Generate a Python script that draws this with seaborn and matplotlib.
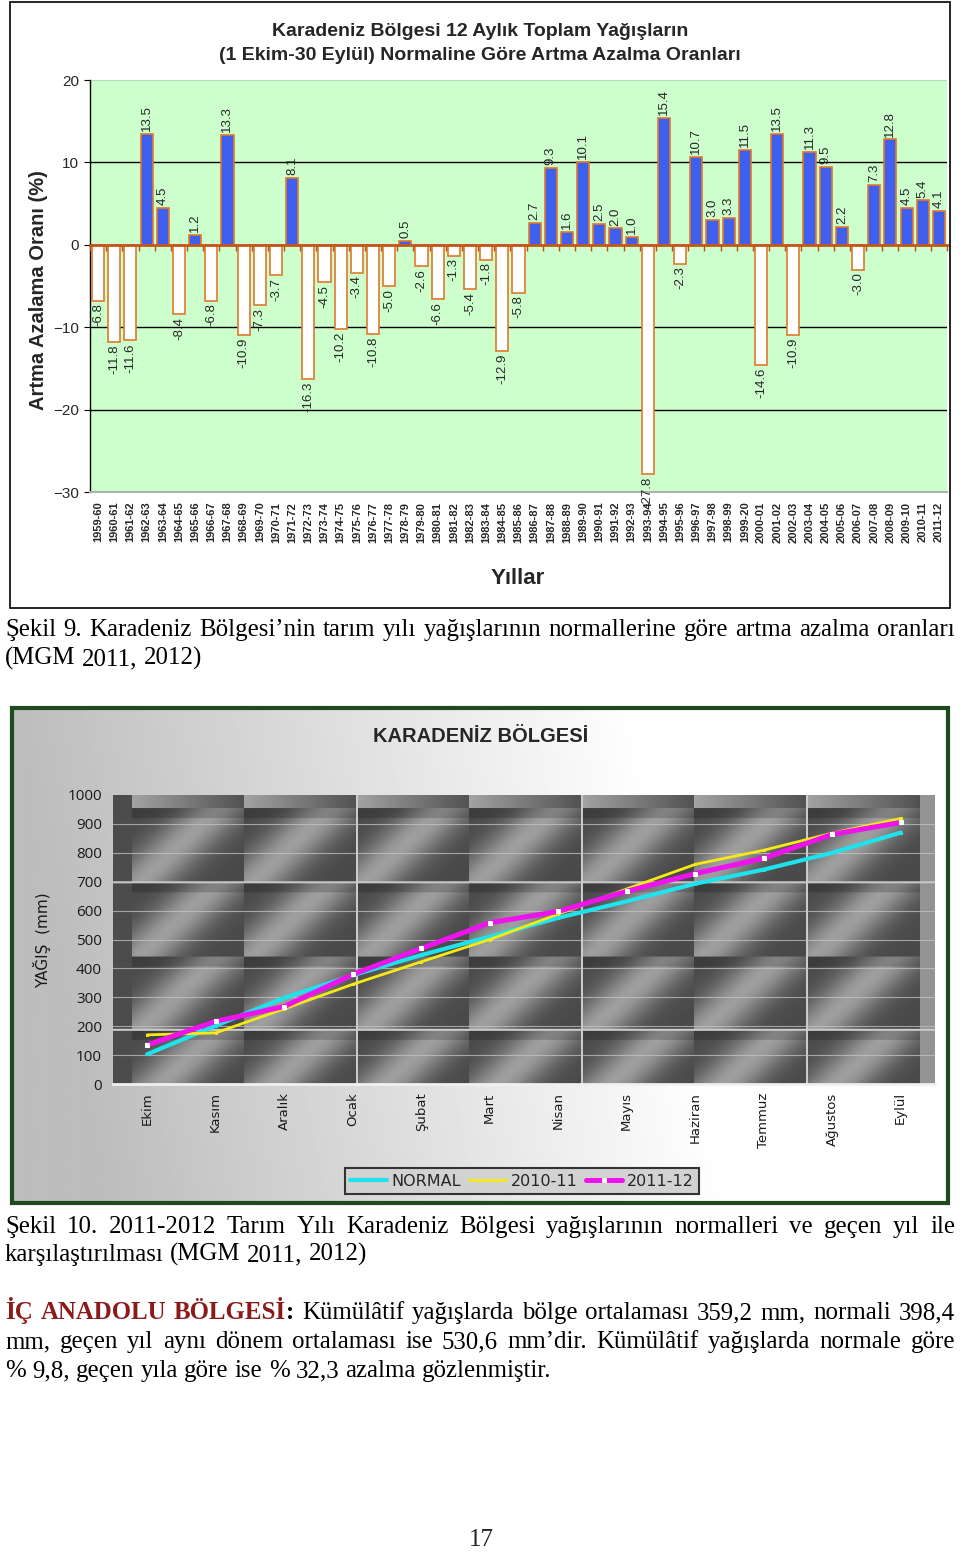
import numpy as np
import pandas as pd
import matplotlib
matplotlib.use("Agg")
import matplotlib.pyplot as plt
import seaborn as sns
from matplotlib.patches import Rectangle
from matplotlib.font_manager import FontProperties

W, H = 960, 1552

# ---------------- data: chart 1 ----------------
seasons = ["1959-60", "1960-61", "1961-62", "1962-63", "1963-64", "1964-65", "1965-66",
           "1966-67", "1967-68", "1968-69", "1969-70", "1970-71", "1971-72", "1972-73",
           "1973-74", "1974-75", "1975-76", "1976-77", "1977-78", "1978-79", "1979-80",
           "1980-81", "1981-82", "1982-83", "1983-84", "1984-85", "1985-86", "1986-87",
           "1987-88", "1988-89", "1989-90", "1990-91", "1991-92", "1992-93", "1993-94",
           "1994-95", "1995-96", "1996-97", "1997-98", "1998-99", "1999-20", "2000-01",
           "2001-02", "2002-03", "2003-04", "2004-05", "2005-06", "2006-07", "2007-08",
           "2008-09", "2009-10", "2010-11", "2011-12"]
change_pct = [-6.8, -11.8, -11.6, 13.5, 4.5, -8.4, 1.2, -6.8, 13.3, -10.9, -7.3, -3.7, 8.1,
              -16.3, -4.5, -10.2, -3.4, -10.8, -5.0, 0.5, -2.6, -6.6, -1.3, -5.4, -1.8,
              -12.9, -5.8, 2.7, 9.3, 1.6, 10.1, 2.5, 2.0, 1.0, -27.8, 15.4, -2.3, 10.7,
              3.0, 3.3, 11.5, -14.6, 13.5, -10.9, 11.3, 9.5, 2.2, -3.0, 7.3, 12.8, 4.5,
              5.4, 4.1]
y_ticks1 = [-30, -20, -10, 0, 10, 20]

# ---------------- data: chart 2 ----------------
months = ["Ekim", "Kasım", "Aralık", "Ocak", "Şubat", "Mart", "Nisan", "Mayıs",
          "Haziran", "Temmuz", "Ağustos", "Eylül"]
normal_mm = [103, 202, 298, 376, 446, 510, 575, 632, 693, 742, 800, 870]
season_2010_11 = [170, 177, 260, 345, 423, 500, 588, 675, 760, 809, 868, 919]
season_2011_12 = [135, 217, 268, 379, 469, 558, 597, 667, 728, 781, 864, 905]
series_names = ["NORMAL", "2010-11", "2011-12"]
y_ticks2 = [0, 100, 200, 300, 400, 500, 600, 700, 800, 900, 1000]

BLUE = "#3F5FEF"
ORANGE = "#E0782A"

sns.set_style("white")
plt.rcParams['font.family'] = ['Liberation Sans', 'DejaVu Sans']

fig = plt.figure(figsize=(W / 100, H / 100), dpi=100)
fig.patch.set_facecolor("white")


def fx(px):
    return px / W


def fy(py):
    return 1 - py / H


def box(l, t, r, b):
    return [fx(l), fy(b), (r - l) / W, (b - t) / H]


# ================= CHART 1 =================
fig.add_artist(Rectangle((fx(10), fy(608)), 940 / W, 606 / H, transform=fig.transFigure,
                         fill=False, edgecolor="black", lw=1.2))
fig.text(fx(480), fy(32), "Karadeniz Bölgesi 12 Aylık Toplam Yağışların",
         ha="center", va="center", fontsize=14, weight="bold")
fig.text(fx(480), fy(56), "(1 Ekim-30 Eylül) Normaline Göre Artma Azalma Oranları",
         ha="center", va="center", fontsize=14, weight="bold")

ax1 = fig.add_axes(box(90, 80, 947, 492))
df1 = pd.DataFrame({"Sezon": seasons, "Oran": change_pct})
sns.barplot(data=df1, x="Sezon", y="Oran", ax=ax1, color=BLUE, saturation=1,
            width=0.75, edgecolor=ORANGE, linewidth=1.2, errorbar=None, zorder=3)
cont = ax1.containers[0]
for p, v in zip(cont.patches, change_pct):
    p.set_facecolor(BLUE if v > 0 else "white")
ax1.bar_label(cont, labels=[f"{v:.1f}" for v in change_pct], rotation=90, padding=2,
              fontsize=9.5, clip_on=False, zorder=5)

ax1.set_xlim(-0.5, len(seasons) - 0.5)
ax1.set_ylim(-30, 20)
ax1.set_yticks(y_ticks1)
ax1.set_facecolor("#CCFFCC")
for v in [-20, -10, 10]:
    ax1.axhline(v, color="black", lw=1.0, zorder=1)
ax1.axhline(20, color="#b5dcb5", lw=1.5, zorder=1)
for s in ["top", "right"]:
    ax1.spines[s].set_visible(False)
ax1.spines["left"].set_color("black")
ax1.spines["left"].set_linewidth(1.0)
ax1.spines["bottom"].set_color("#b0b0b0")
ax1.spines["bottom"].set_linewidth(1.5)
ax1.tick_params(axis="x", length=0, labelrotation=90, labelsize=8, pad=7)
for t in ax1.get_xticklabels():
    t.set_fontweight("bold")
ax1.tick_params(axis="y", length=4, direction="out", labelsize=11, pad=4, left=True, color="black")
ax1.set_xlabel("Yıllar", fontsize=16, weight="bold")
ax1.xaxis.set_label_coords(0.4994, -0.185)
ax1.set_ylabel("Artma Azalama Oranı (%)", fontsize=14.5, weight="bold")
ax1.yaxis.set_label_coords(-0.049, 0.49)

sec = ax1.secondary_xaxis(0.6)
sec.set_alignment("bottom")
sec.set_xticks(np.arange(-0.5, len(seasons), 1.0))
sec.tick_params(axis="x", direction="out", length=4, color="#B5501C", width=1,
                labelbottom=False, labeltop=False)
sec.spines["bottom"].set_color("#C0561C")
sec.spines["bottom"].set_linewidth(2)
sec.set_zorder(4)

# ================= CHART 2 =================
axbg = fig.add_axes(box(12, 708, 948, 1203))
axbg.set_zorder(0)
uu, vv = np.meshgrid(np.linspace(0, 1, 400), np.linspace(0, 1, 220))
grad = 0.74 + 0.26 * np.clip(1.5 * uu + 0.15 * (1 - vv) - 0.15, 0, 1)
axbg.imshow(grad, cmap="gray", vmin=0, vmax=1, aspect="auto", extent=(0, 1, 0, 1))
axbg.axis("off")
fig.add_artist(Rectangle((fx(12), fy(1203)), 936 / W, 495 / H, transform=fig.transFigure,
                         fill=False, edgecolor="#1E4A1E", lw=3, zorder=10))

fig.text(fx(481), fy(737), "KARADENİZ BÖLGESİ", ha="center", va="center",
         fontsize=14.5, weight="bold", zorder=11)

ax2 = fig.add_axes(box(113, 795, 935, 1084))
ax2.set_zorder(2)

# textured dark background
xs = np.arange(113, 935) + 0.5
ys = np.arange(795, 1084) + 0.5
X, Y = np.meshgrid(xs, ys)
cb = np.array([132, 244.5, 357, 469.5, 582, 694.5, 807, 919.5])
rb = np.array([809, 883, 957, 1030, 1104])
ci = np.clip(np.searchsorted(cb, X, side="right") - 1, 0, len(cb) - 2)
ri = np.clip(np.searchsorted(rb, Y, side="right") - 1, 0, len(rb) - 2)
u = (X - cb[ci]) / 112.5
v = (Y - rb[ri]) / 74.0
band = np.exp(-((u - 0.42 + (v - 0.5) * 0.7) ** 2) / (2 * 0.22 ** 2))
tile = 0.29 + 0.33 * band
tile = np.where(v < 0.14, tile * 0.82, tile)
img = tile
img = np.where(Y < 809, 0.64 - 0.32 * u, img)
img = np.where(X < 132, 0.30, img)
img = np.where(X > 919.5, 0.58, img)
for lx in [357, 582, 807]:
    img = np.where(np.abs(X - lx) < 1.0, 0.80, img)
for ly in [883, 1030]:
    img = np.where(np.abs(Y - ly) < 1.0, 0.80, img)
ax2.imshow(img, cmap="gray", vmin=0, vmax=1, aspect="auto",
           extent=(-0.5, 11.5, 0, 1000), zorder=0, interpolation="bilinear")

pos = np.arange(len(months))
ax2.set_xlim(-0.5, 11.5)
ax2.set_ylim(0, 1000)
for yv in y_ticks2[1:-1]:
    ax2.axhline(yv, color="#c4c4c4", lw=0.8, alpha=0.75, zorder=1)

series = [normal_mm, season_2010_11, season_2011_12]
colors = ["#1EE3EC", "#F5EA14", "#EE12EE"]
widths = [3.0, 2.0, 3.6]
for name, vals, c, lw in zip(series_names, series, colors, widths):
    mk = dict(marker="s", markersize=2.6, markerfacecolor="white", markeredgecolor="white") \
        if name == "2011-12" else dict(marker="s", markersize=2, markerfacecolor=c, markeredgecolor=c)
    sns.lineplot(x=pos, y=vals, ax=ax2, color=c, linewidth=lw, label=name, zorder=3, **mk)

ax2.set_xticks(pos)
ax2.set_xticklabels(months, rotation=90, fontsize=9.5, family="DejaVu Sans", color="#1a1a1a")
ax2.set_yticks(y_ticks2)
ax2.set_yticklabels([str(t) for t in y_ticks2], fontsize=11, family="Open Sans", color="#1a1a1a")
ax2.tick_params(axis="x", direction="in", length=3, color="white", pad=6)
ax2.tick_params(axis="y", direction="in", length=3, color="white", pad=8)
for s in ["top", "right", "left"]:
    ax2.spines[s].set_visible(False)
ax2.spines["bottom"].set_color("#f0f0f0")
ax2.spines["bottom"].set_linewidth(2)
ax2.set_xlabel("")
ax2.set_ylabel("")

handles, labels = ax2.get_legend_handles_labels()
leg = ax2.legend(handles, labels, loc="center", bbox_to_anchor=(fx(522), fy(1181)),
                 bbox_transform=fig.transFigure, ncol=3, frameon=True, facecolor="#d2d2d2",
                 edgecolor="#333333", fancybox=False, framealpha=1, handlelength=2.3,
                 columnspacing=0.5, handletextpad=0.3, borderpad=0.35,
                 prop=FontProperties(family=["Liberation Sans Narrow", "DejaVu Sans"], size=11.5))
leg.get_frame().set_linewidth(1.5)

fig.text(fx(42), fy(940), "YAĞIŞ  (mm)", rotation=90, ha="center", va="center",
         fontsize=11, family="DejaVu Sans", color="#1a1a1a", zorder=11)

# ================= body text =================
renderer = fig.canvas.get_renderer()


def text_width(s, fp):
    t = fig.text(0, 0, s, fontproperties=fp)
    w = t.get_window_extent(renderer).width
    t.remove()
    return w


fp10 = FontProperties(family="Liberation Serif", size=10)
cap9_l1 = "Şekil 9. Karadeniz Bölgesi’nin tarım yılı yağışlarının normallerine göre artma azalma oranları"
nat = text_width(cap9_l1, fp10)
body_size = min(19.5, 10 * 940 / nat)
fp = FontProperties(family="Liberation Serif", size=body_size)
fpb = FontProperties(family="Liberation Serif", size=body_size, weight="bold")
space_w = text_width("x x", fp) - text_width("xx", fp)
RED = "#8B1A1A"


def to_words(txt, f, col):
    return [[(w, f, col)] for w in txt.split()]


def draw_line(words, baseline, justify, x0=5, x1=955):
    widths = [sum(text_width(p, f) for p, f, c in w) for w in words]
    if justify and len(words) > 1:
        gap = (x1 - x0 - sum(widths)) / (len(words) - 1)
    else:
        gap = space_w
    x = x0
    for pieces, ww in zip(words, widths):
        xp = x
        for p, f, col in pieces:
            fig.text(fx(xp), fy(baseline), p, fontproperties=f, color=col,
                     ha="left", va="baseline")
            xp += text_width(p, f)
        x += ww + gap


draw_line(to_words(cap9_l1, fp, "black"), 636, True)
draw_line(to_words("(MGM 2011, 2012)", fp, "black"), 665, False)
draw_line(to_words("Şekil 10. 2011-2012 Tarım Yılı Karadeniz Bölgesi yağışlarının normalleri ve geçen yıl ile",
                   fp, "black"), 1233, True)
draw_line(to_words("karşılaştırılması (MGM 2011, 2012)", fp, "black"), 1261, False)
para1 = (to_words("İÇ ANADOLU", fpb, RED) + [[("BÖLGESİ", fpb, RED), (":", fpb, "black")]]
         + to_words("Kümülâtif yağışlarda bölge ortalaması 359,2 mm, normali 398,4", fp, "black"))
draw_line(para1, 1319, True)
draw_line(to_words("mm, geçen yıl aynı dönem ortalaması ise 530,6 mm’dir. Kümülâtif yağışlarda normale göre",
                   fp, "black"), 1348, True)
draw_line(to_words("% 9,8, geçen yıla göre ise % 32,3 azalma gözlenmiştir.", fp, "black"), 1377, False)
fig.text(fx(481), fy(1540), "17", fontproperties=fp, ha="center", va="center")

fig.savefig("out.png", dpi=100)
